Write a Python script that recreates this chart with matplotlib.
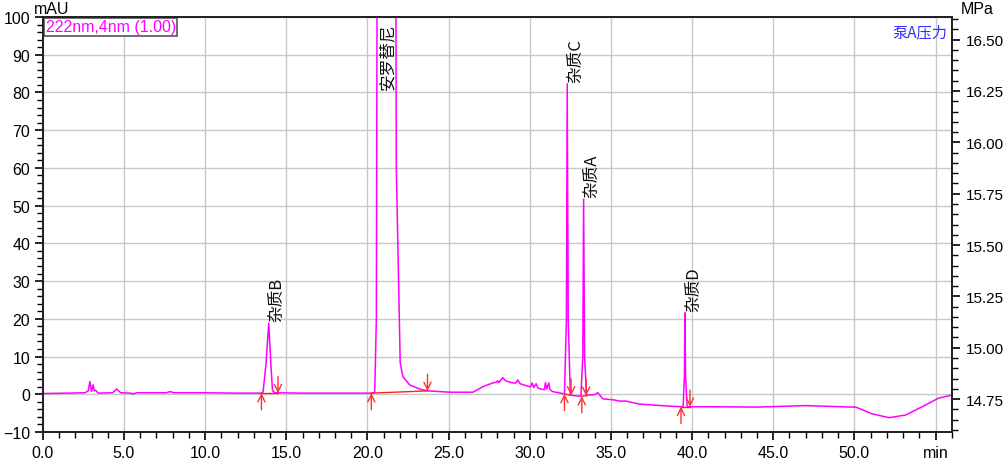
import matplotlib
matplotlib.use("Agg")
import matplotlib.pyplot as plt
from matplotlib.ticker import MultipleLocator, FixedLocator, FuncFormatter

plt.rcParams['font.family'] = ['Liberation Sans', 'Noto Sans CJK SC', 'DejaVu Sans']

# 色谱数据 (时间 min, 信号 mAU)
t = [0.0, 1.5, 2.6, 2.8, 2.9, 3.0, 3.1, 3.17, 3.25, 3.4, 4.3, 4.55, 4.8, 5.4, 5.57, 5.8,
     7.6, 7.83, 8.1, 10.0, 12.0, 13.45, 13.57, 13.75, 13.92, 14.05, 14.15, 14.3, 16.0, 18.0,
     20.3, 20.45, 20.55, 20.62, 21.15, 21.72, 21.78, 22.02, 22.18, 22.6, 23.21, 23.72, 25.06,
     26.5, 27.1, 27.72, 27.95, 28.03, 28.1, 28.34, 28.5, 28.95, 29.15, 29.26, 29.4, 29.98,
     30.05, 30.15, 30.25, 30.39, 30.5, 30.6, 30.9, 30.97, 31.05, 31.17, 31.25, 31.42, 32.14,
     32.26, 32.31, 32.37, 32.5, 32.8, 33.15, 33.27, 33.32, 33.38, 33.5, 33.67, 34.0, 34.19,
     34.5, 35.2, 35.52, 35.93, 36.75, 38.8, 39.45, 39.53, 39.56, 39.6, 39.7, 41.0, 44.0,
     47.0, 49.86, 50.09, 51.1, 52.14, 53.16, 54.18, 55.2, 55.93]
sig = [0.2, 0.3, 0.4, 0.9, 3.4, 0.8, 2.5, 0.9, 1.1, 0.3, 0.4, 1.4, 0.4, 0.3, 0.1, 0.4,
       0.4, 0.7, 0.4, 0.4, 0.3, 0.3, 0.6, 8.0, 18.9, 8.0, 1.0, 0.4, 0.3, 0.3,
       0.3, 0.6, 20.0, 160.0, 600.0, 160.0, 60.0, 8.3, 4.7, 2.5, 1.4, 0.9, 0.55,
       0.55, 2.0, 3.0, 3.2, 3.6, 3.1, 4.4, 3.6, 3.0, 3.0, 3.8, 2.8, 2.0,
       2.0, 3.0, 1.8, 2.8, 1.7, 1.5, 1.2, 3.1, 1.4, 3.0, 1.2, 0.7, 0.1,
       20.0, 82.3, 20.0, -0.2, -0.4, -0.5, 10.0, 51.7, 10.0, -0.3, -0.2, -0.1, 0.45,
       -1.2, -1.5, -1.8, -1.8, -2.6, -3.2, -3.3, 5.0, 21.6, 5.0, -3.3, -3.3, -3.4,
       -3.0, -3.4, -3.4, -5.2, -6.2, -5.5, -3.3, -1.0, -0.3]

# 峰名称、保留时间、峰高 (标签位置)
peak_names = ["杂质B", "安罗替尼", "杂质C", "杂质A", "杂质D"]
peak_rt = [13.92, 20.75, 32.31, 33.32, 39.56]
peak_h = [18.9, 100.0, 82.3, 51.7, 21.6]

# 积分起点/终点 (时间, 信号)
int_start_t = [13.47, 20.24, 32.14, 33.21, 39.32]
int_start_y = [0.3, 0.3, 0.1, -0.5, -3.3]
int_end_t = [14.49, 23.7, 32.55, 33.47, 39.87]
int_end_y = [0.3, 0.9, -0.3, -0.4, -3.3]

fig = plt.figure(figsize=(10.05, 4.64), dpi=100)
ax = fig.add_axes([0.0426, 0.0668, 0.9044, 0.8944])

ax.plot(t, sig, color='#ff00ff', lw=1.1, zorder=3)

# 积分基线和箭头
arrow_kw = dict(arrowstyle='->', color='#ff3030', lw=1.0, mutation_scale=13,
                shrinkA=0, shrinkB=0)
for x0, y0, x1, y1 in zip(int_start_t, int_start_y, int_end_t, int_end_y):
    ax.plot([x0, x1], [y0, y1], color='#ff2020', lw=1.0, zorder=4)
    ax.annotate('', xy=(x0, y0), xytext=(0, -12), textcoords='offset points',
                arrowprops=arrow_kw, zorder=5)
    ax.annotate('', xy=(x1, y1), xytext=(0, 12), textcoords='offset points',
                arrowprops=arrow_kw, zorder=5)

# 峰标签
for name, rt, h in zip(peak_names, peak_rt, peak_h):
    va = 'top' if h >= 100 else 'bottom'
    yy = 98.5 if h >= 100 else h + 0.5
    ax.text(rt, yy, name, rotation=90, ha='left', va=va, fontsize=12,
            family=['Noto Sans CJK SC', 'DejaVu Sans'], color='#111111', zorder=6)

ax.set_xlim(0, 56)
ax.set_ylim(-10, 100)
ax.xaxis.set_major_locator(FixedLocator([0, 5, 10, 15, 20, 25, 30, 35, 40, 45, 50, 55]))
ax.xaxis.set_minor_locator(MultipleLocator(1))
ax.xaxis.set_major_formatter(FuncFormatter(lambda v, p: 'min' if v >= 55 else f'{v:.1f}'))
ax.yaxis.set_major_locator(MultipleLocator(10))
ax.yaxis.set_minor_locator(MultipleLocator(2))
ax.grid(True, which='major', color='#c8c8c8', lw=1.0, zorder=0)
ax.tick_params(which='major', direction='out', length=6, width=1.2, labelsize=11.5, pad=3)
ax.tick_params(which='minor', direction='out', length=4, width=1.0)
for s in ax.spines.values():
    s.set_linewidth(1.3)
    s.set_color('#222222')

# 右轴 (泵A压力)
ax2 = ax.twinx()
ax2.set_ylim(14.59, 16.61)
ax2.yaxis.set_major_locator(FixedLocator([14.75, 15.0, 15.25, 15.5, 15.75, 16.0, 16.25, 16.5]))
ax2.yaxis.set_minor_locator(MultipleLocator(0.05))
ax2.yaxis.set_major_formatter(FuncFormatter(lambda v, p: f'{v:.2f}'))
ax2.tick_params(which='major', direction='out', length=6, width=1.2, labelsize=11, pad=4)
ax2.tick_params(which='minor', direction='out', length=4, width=1.0)
for s in ax2.spines.values():
    s.set_linewidth(1.3)
    s.set_color('#222222')

ax.text(0.01, 1.003, 'mAU', transform=ax.transAxes, ha='center', va='bottom', fontsize=11.5)
ax.text(1.01, 1.003, 'MPa', transform=ax.transAxes, ha='left', va='bottom', fontsize=11.5)
ax.text(0.995, 0.985, '泵A压力', transform=ax.transAxes, ha='right', va='top', fontsize=11,
        color='#3030ff', family=['Noto Sans CJK SC', 'DejaVu Sans'])
ax.text(0.003, 0.994, '222nm,4nm (1.00)', transform=ax.transAxes, ha='left', va='top',
        fontsize=11.5, color='#ff00ff',
        bbox=dict(boxstyle='square,pad=0.08', facecolor='white', edgecolor='#555555', lw=1.2),
        zorder=7)

fig.savefig('out.png', dpi=100)
